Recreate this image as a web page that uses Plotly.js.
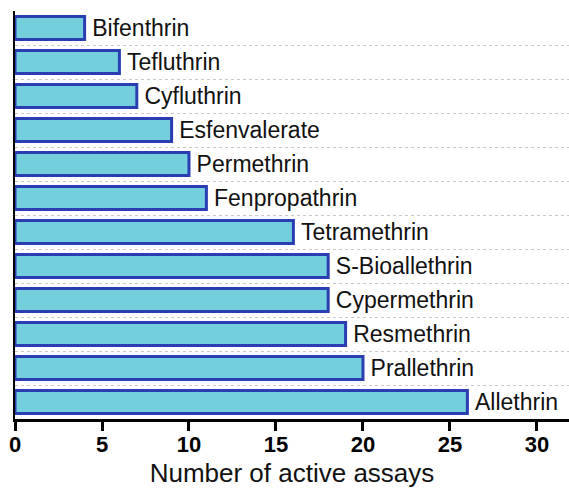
<!DOCTYPE html>
<html>
<head>
<meta charset="utf-8">
<script src="https://cdn.plot.ly/plotly-3.0.1.min.js"></script>
<style>html,body{margin:0;padding:0;background:#fff;}#chart{width:569px;height:490px;}</style>
</head>
<body>
<div id="chart"></div>
<script>
// Compounds listed top to bottom
const compounds = ["Bifenthrin","Tefluthrin","Cyfluthrin","Esfenvalerate","Permethrin","Fenpropathrin","Tetramethrin","S-Bioallethrin","Cypermethrin","Resmethrin","Prallethrin","Allethrin"];
const activeAssays = [4, 6, 7, 9, 10, 11, 16, 18, 18, 19, 20, 26];
const xTicks = [0, 5, 10, 15, 20, 25, 30];
const xTitle = "Number of active assays";

const font = "Liberation Sans, Arial, Helvetica, sans-serif";

const trace = {
  type: "bar",
  orientation: "h",
  x: activeAssays,
  y: compounds,
  text: compounds,
  texttemplate: "\u2009%{text}",
  textposition: "outside",
  constraintext: "none",
  cliponaxis: false,
  textfont: {family: font, size: 23, color: "#111"},
  marker: {color: "rgb(116,207,221)", line: {color: "rgb(42,62,178)", width: 3}},
  hoverinfo: "none"
};

const layout = {
  width: 569, height: 490,
  margin: {l: 15, r: 0, t: 11, b: 71},
  paper_bgcolor: "#fff", plot_bgcolor: "#fff",
  bargap: 0.32,
  showlegend: false,
  font: {family: font, color: "#000"},
  xaxis: {
    range: [0, 31.84],
    tickvals: xTicks,
    ticks: "outside", ticklen: 9, tickwidth: 3, tickcolor: "#000",
    ticklabelstandoff: -5,
    showline: true, linecolor: "#000", linewidth: 3,
    showgrid: false, zeroline: false,
    tickfont: {family: font, size: 22, color: "#000", weight: "bold"},
    title: {text: xTitle, font: {family: font, size: 26, color: "#111"}, standoff: 8}
  },
  yaxis: {
    type: "category",
    categoryorder: "array", categoryarray: compounds,
    range: [11.5, -0.5],
    showticklabels: false,
    ticks: "",
    tickson: "boundaries",
    showgrid: true, gridcolor: "#c8c8c8", gridwidth: 1, griddash: "dot",
    showline: true, linecolor: "#000", linewidth: 2,
    zeroline: false
  }
};

Plotly.newPlot("chart", [trace], layout, {displayModeBar: false, staticPlot: true});
</script>
</body>
</html>
